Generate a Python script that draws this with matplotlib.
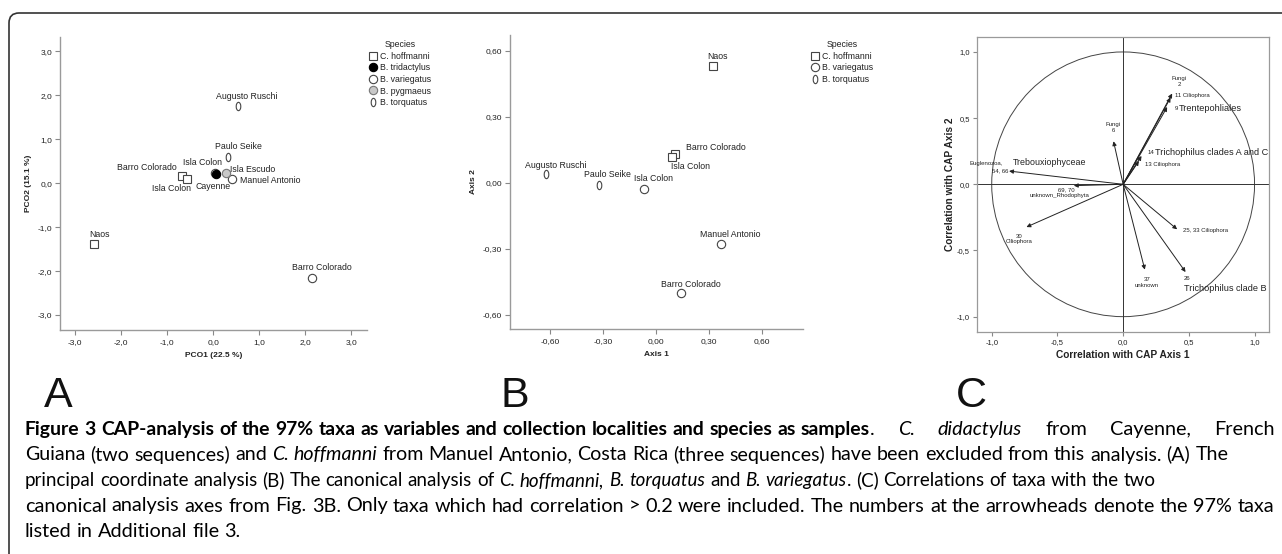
import matplotlib
matplotlib.use("Agg")
import matplotlib.pyplot as plt
from matplotlib.path import Path
from matplotlib.patches import Circle, FancyBboxPatch
from matplotlib.transforms import IdentityTransform
from matplotlib.ticker import FixedLocator, FuncFormatter

plt.rcParams['font.family'] = ['Liberation Sans', 'DejaVu Sans']

# ---------------- data ----------------
species = ['C. hoffmanni', 'B. tridactylus', 'B. variegatus', 'B. pygmaeus', 'B. torquatus']

# panel A : principal coordinates
a_names = ['Naos', 'Barro Colorado', 'Isla Colon', 'Isla Colon', 'Cayenne', 'Isla Escudo',
           'Manuel Antonio', 'Barro Colorado', 'Augusto Ruschi', 'Paulo Seike']
a_species = ['C. hoffmanni', 'C. hoffmanni', 'C. hoffmanni', 'B. variegatus', 'B. tridactylus',
             'B. pygmaeus', 'B. variegatus', 'B. variegatus', 'B. torquatus', 'B. torquatus']
a_x = [-2.59, -0.69, -0.57, 0.04, 0.07, 0.27, 0.41, 2.15, 0.53, 0.33]
a_y = [-1.38, 0.17, 0.10, 0.22, 0.20, 0.23, 0.10, -2.15, 1.75, 0.60]

# panel B : canonical analysis
b_names = ['Naos', 'Barro Colorado', 'Isla Colon', 'Augusto Ruschi', 'Paulo Seike',
           'Isla Colon', 'Manuel Antonio', 'Barro Colorado']
b_species = ['C. hoffmanni', 'C. hoffmanni', 'C. hoffmanni', 'B. torquatus', 'B. torquatus',
             'B. variegatus', 'B. variegatus', 'B. variegatus']
b_x = [0.319, 0.104, 0.089, -0.624, -0.323, -0.068, 0.364, 0.140]
b_y = [0.532, 0.130, 0.118, 0.040, -0.009, -0.026, -0.279, -0.503]

# panel C : correlations of taxa with CAP axes
c_x = [0.373, 0.361, 0.335, -0.073, 0.140, 0.120, -0.868, -0.375, -0.736, 0.411, 0.165, 0.475]
c_y = [0.686, 0.655, 0.584, 0.325, 0.214, 0.176, 0.100, -0.010, -0.323, -0.340, -0.645, -0.663]
c_small = ['Fungi\n2', '11 Ciliophora', '9', 'Fungi\n6', '14', '13 Ciliophora',
           '54, 66', '69, 70', '30\nCiliophora', '25, 33 Ciliophora', '37\nunknown', '26']
c_extra = ['', '', 'Trentepohliales', '', 'Trichophilus clades A and C', '',
           'Trebouxiophyceae', 'unknown_Rhodophyta', '', '', '', 'Trichophilus clade B']

# ---------------- layout helpers ----------------
W, H = 1282, 554
fig = plt.figure(figsize=(W / 100, H / 100), dpi=100)


def px_axes(l, t, r, b):
    return fig.add_axes([l / W, (H - b) / H, (r - l) / W, (b - t) / H])


ell = Path.unit_circle()
zero_marker = Path(ell.vertices * [0.55, 1.0], ell.codes)

styles = {
    'C. hoffmanni': dict(marker='s', mfc='white', mec='#444', zorder=3),
    'B. tridactylus': dict(marker='o', mfc='black', mec='black', zorder=5),
    'B. variegatus': dict(marker='o', mfc='white', mec='#444', zorder=3),
    'B. pygmaeus': dict(marker='o', mfc='#c8c8c8', mec='#777', zorder=4),
    'B. torquatus': dict(marker=zero_marker, mfc='none', mec='#444', zorder=3),
}

grey = '#9a9a9a'
txt = '#222222'


def style_axes(ax, ticks_x, ticks_y, fmt):
    for s in ['top', 'right']:
        ax.spines[s].set_visible(False)
    for s in ['left', 'bottom']:
        ax.spines[s].set_color(grey)
        ax.spines[s].set_linewidth(1.0)
    ax.xaxis.set_major_locator(FixedLocator(ticks_x))
    ax.yaxis.set_major_locator(FixedLocator(ticks_y))
    f = FuncFormatter(lambda v, p: fmt.format(v).replace('.', ','))
    ax.xaxis.set_major_formatter(f)
    ax.yaxis.set_major_formatter(f)
    ax.tick_params(direction='out', length=3.6, width=0.8, color='#888', labelsize=6,
                   labelcolor=txt, pad=2)
    ax.tick_params(axis='x', pad=3)


def scatter_panel(ax, xs, ys, sp, names, dx, dy, ha):
    for s in species:
        idx = [i for i, v in enumerate(sp) if v == s]
        if not idx:
            continue
        st = dict(styles[s])
        z = st.pop('zorder')
        ax.plot([xs[i] for i in idx], [ys[i] for i in idx], ls='none', ms=6, mew=0.8,
                label=s, zorder=z, clip_on=False, **st)
    for i, n in enumerate(names):
        ax.annotate(n, (xs[i], ys[i]), xytext=(dx[i], dy[i]), textcoords='offset pixels',
                    ha=ha[i], va='center', fontsize=6.3, color=txt, zorder=6)


def legend_at(ax, sp_list, x, y):
    hs = []
    for s in sp_list:
        st = dict(styles[s])
        st.pop('zorder')
        h, = ax.plot([], [], ls='none', ms=6, mew=0.8, **st)
        hs.append(h)
    lg = ax.legend(hs, sp_list, title='Species', loc='upper left',
                   bbox_to_anchor=(x / W, 1 - y / H), bbox_transform=fig.transFigure,
                   frameon=False, fontsize=6.3, title_fontsize=6.3, handlelength=1.0,
                   handletextpad=0.3, labelspacing=0.3, borderpad=0, borderaxespad=0)
    for t in lg.get_texts():
        t.set_color(txt)
    lg.get_title().set_color(txt)


# ---------------- panel A ----------------
axA = px_axes(60, 37, 367, 330)
axA.set_xlim(-3.33, 3.34)
axA.set_ylim(-3.34, 3.32)
style_axes(axA, [-3, -2, -1, 0, 1, 2, 3], [-3, -2, -1, 0, 1, 2, 3], '{:.1f}')
a_dx = [5, -5, -16, 7, -3, 4, 8, 10, 9, 10]
a_dy = [9, 8, -10, 11, -12, 3, -2, 10, 10, 10]
a_ha = ['center', 'right', 'center', 'right', 'center', 'left', 'left', 'center', 'center', 'center']
scatter_panel(axA, a_x, a_y, a_species, a_names, a_dx, a_dy, a_ha)
axA.set_xlabel('PCO1 (22.5 %)', fontsize=6, weight='bold', color=txt, labelpad=4)
axA.set_ylabel('PCO2 (15.1 %)', fontsize=6, weight='bold', color=txt, labelpad=4)
legend_at(axA, species, 369, 40)

# ---------------- panel B ----------------
axB = px_axes(510, 35, 803, 329)
axB.set_xlim(-0.826, 0.830)
axB.set_ylim(-0.665, 0.673)
style_axes(axB, [-0.6, -0.3, 0, 0.3, 0.6], [-0.6, -0.3, 0, 0.3, 0.6], '{:.2f}')
b_dx = [5, 11, -1, 10, 8, 9, 10, 10]
b_dy = [9, 7, -10, 9, 10, 10, 10, 9]
b_ha = ['center', 'left', 'left', 'center', 'center', 'center', 'center', 'center']
scatter_panel(axB, b_x, b_y, b_species, b_names, b_dx, b_dy, b_ha)
axB.set_xlabel('Axis 1', fontsize=6, weight='bold', color=txt, labelpad=4)
axB.set_ylabel('Axis 2', fontsize=6, weight='bold', color=txt, labelpad=4)
legend_at(axB, ['C. hoffmanni', 'B. variegatus', 'B. torquatus'], 811, 40)

# ---------------- panel C ----------------
axC = px_axes(977, 37, 1269, 332)
axC.set_xlim(-1.112, 1.110)
axC.set_ylim(-1.116, 1.113)
for s in axC.spines.values():
    s.set_color(grey)
    s.set_linewidth(0.9)
tk = [-1.0, -0.5, 0.0, 0.5, 1.0]
axC.xaxis.set_major_locator(FixedLocator(tk))
axC.yaxis.set_major_locator(FixedLocator(tk))
fC = FuncFormatter(lambda v, p: '{:.1f}'.format(v).replace('.', ','))
axC.xaxis.set_major_formatter(fC)
axC.yaxis.set_major_formatter(fC)
axC.tick_params(direction='out', length=3, width=0.8, color='#888', labelsize=5.5,
                labelcolor=txt, pad=2)
axC.add_patch(Circle((0, 0), 1.0, fill=False, ec='#444', lw=0.7))
axC.axhline(0, color='#333', lw=0.7)
axC.axvline(0, color='#333', lw=0.7)

c_dx = [7, 4, 8, 0, 6, 6, -9, -8, -7, 6, 2, 1]
c_dy = [12, 2, -1, 14, 3, -3, 0, -4, -12, -1, -13, -6]
c_ha = ['center', 'left', 'left', 'center', 'left', 'left', 'center', 'center', 'center',
        'left', 'center', 'center']
e_dx = [0, 0, 12, 0, 13, 0, 4, -14, 0, 0, 0, -2]
e_dy = [0, 0, -1, 0, 3, 0, 9, -10, 0, 0, 0, -16]
e_ha = ['left', 'left', 'left', 'left', 'left', 'left', 'left', 'center', 'left', 'left', 'left', 'left']
e_size = [6.6, 6.6, 6.6, 6.6, 6.6, 6.6, 6.4, 4.3, 6.6, 6.6, 6.6, 6.6]
for i in range(len(c_x)):
    axC.annotate('', xy=(c_x[i], c_y[i]), xytext=(0, 0),
                 arrowprops=dict(arrowstyle='-|>', color='#222', lw=0.7, mutation_scale=6,
                                 shrinkA=0, shrinkB=0))
    axC.annotate(c_small[i], (c_x[i], c_y[i]), xytext=(c_dx[i], c_dy[i]),
                 textcoords='offset pixels', ha=c_ha[i], va='center', fontsize=4.3,
                 color=txt, linespacing=1.2, annotation_clip=False)
    if c_extra[i]:
        axC.annotate(c_extra[i], (c_x[i], c_y[i]), xytext=(e_dx[i], e_dy[i]),
                     textcoords='offset pixels', ha=e_ha[i], va='center', fontsize=e_size[i],
                     color=txt, annotation_clip=False)
axC.annotate('Euglenozoa,', (c_x[6], c_y[6]), xytext=(-40, 8), textcoords='offset pixels',
             ha='left', va='center', fontsize=4.3, color=txt, annotation_clip=False)
axC.set_xlabel('Correlation with CAP Axis 1', fontsize=7.3, weight='bold', color=txt, labelpad=3)
axC.set_ylabel('Correlation with CAP Axis 2', fontsize=7.3, weight='bold', color=txt, labelpad=1.5)

# ---------------- panel letters ----------------
for lx, letter in [(44, 'A'), (500, 'B'), (956, 'C')]:
    fig.text(lx / W, 1 - 407 / H, letter, fontsize=31, ha='left', va='baseline', color='#111')

# ---------------- caption ----------------
cap_font = ['Lato', 'DejaVu Sans']
piece_kw = {'r': {}, 'b': {'weight': 'bold'}, 'i': {'style': 'italic'}}
cap_lines = [
    [("Figure 3 CAP-analysis of the 97% taxa as variables and collection localities and species as samples", 'b'),
     (". ", 'r'), ("C. didactylus", 'i'), (" from Cayenne, French", 'r')],
    [("Guiana (two sequences) and ", 'r'), ("C. hoffmanni", 'i'),
     (" from Manuel Antonio, Costa Rica (three sequences) have been excluded from this analysis. (A) The", 'r')],
    [("principal coordinate analysis (B) The canonical analysis of ", 'r'),
     ("C. hoffmanni, B. torquatus", 'i'), (" and ", 'r'), ("B. variegatus", 'i'),
     (". (C) Correlations of taxa with the two", 'r')],
    [("canonical analysis axes from Fig. 3B. Only taxa which had correlation > 0.2 were included. "
      "The numbers at the arrowheads denote the 97% taxa", 'r')],
    [("listed in Additional file 3.", 'r')],
]
cap_base = [435, 460.5, 486, 511.5, 537]
cap_end = [1275, 1230, 1160, 1275, None]
x0 = 25
bold_end = 873
renderer = fig.canvas.get_renderer()


def text_w(s, size, kind):
    t = fig.text(0, 0, s, fontsize=size, family=cap_font, **piece_kw[kind])
    w = t.get_window_extent(renderer).width
    t.remove()
    return w


def tokenize(pieces):
    out, pend = [], False
    for s, kind in pieces:
        for j, p in enumerate(s.split(' ')):
            if j > 0:
                pend = True
            if p:
                out.append((p, kind, pend))
                pend = False
    return out


def run(tokens, size, x, y, end=None, draw=False):
    ws = [text_w(w, size, k) for w, k, _ in tokens]
    nsp = sum(1 for t in tokens[1:] if t[2])
    gap = text_w('n n', size, 'r') - text_w('nn', size, 'r')
    if end is not None and nsp:
        gap = max((end - x - sum(ws)) / nsp, 0.5 * gap)
    for i, ((w, k, s), wd) in enumerate(zip(tokens, ws)):
        if s and i > 0:
            x += gap
        if draw:
            fig.text(x / W, 1 - y / H, w, fontsize=size, family=cap_font, color='black',
                     va='baseline', ha='left', **piece_kw[k])
        x += wd
    return x


def fit(tokens, width):
    s = 12.0
    for _ in range(3):
        s *= width / run(tokens, s, 0, 0)
    return s


toks = [tokenize(p) for p in cap_lines]
size_reg = fit(toks[3], cap_end[3] - x0)
# line 1: bold lead-in then justified remainder
bold_t = [t for t in toks[0] if t[1] == 'b']
rest_t = [t for t in toks[0] if t[1] != 'b']
size_b = fit(bold_t, bold_end - x0)
xe = run(bold_t, size_b, x0, cap_base[0], draw=True)
run(rest_t, size_reg, xe, cap_base[0], end=cap_end[0], draw=True)
for i in range(1, 5):
    s = size_reg if cap_end[i] is None else min(size_reg, fit(toks[i], cap_end[i] - x0))
    run(toks[i], s, x0, cap_base[i], draw=True)

# ---------------- frame ----------------
frame = FancyBboxPatch((9, -100), 1400, (H - 13) + 100, boxstyle='round,pad=0,rounding_size=10',
                       transform=IdentityTransform(), fill=False, ec='#333', lw=1.2)
fig.add_artist(frame)

fig.savefig('out.png', dpi=100)
